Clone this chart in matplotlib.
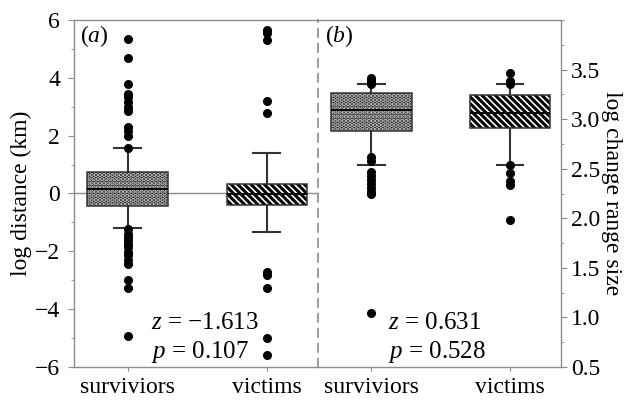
import matplotlib
matplotlib.use("Agg")
import matplotlib.pyplot as plt
from matplotlib.patches import PathPatch
from matplotlib.ticker import MultipleLocator

plt.rcParams['font.family'] = ['Liberation Serif', 'DejaVu Serif']
plt.rcParams['mathtext.fontset'] = 'custom'
plt.rcParams['mathtext.rm'] = 'Liberation Serif'
plt.rcParams['mathtext.it'] = 'Liberation Serif:italic'
plt.rcParams['hatch.linewidth'] = 2.2

groups = ['surviviors', 'victims']

# (a) log distance (km): q1, median, q3, lower whisker, upper whisker
dist_surv_box = [-0.44, 0.15, 0.73, -1.21, 1.57]
dist_vict_box = [-0.41, -0.03, 0.33, -1.34, 1.41]
dist_surv_fliers = [5.35, 4.70, 3.78, 3.45, 3.33, 3.18, 2.98, 2.86, 2.31, 2.17, 2.00, 1.56,
                    -1.22, -1.39, -1.50, -1.62, -1.73, -1.85, -2.02, -2.14, -2.31, -2.43,
                    -3.00, -3.27, -4.92]
dist_vict_fliers = [5.66, 5.55, 5.32, 3.20, 2.80, -2.73, -2.82, -3.27, -5.00, -5.58]

# (b) log change range size
range_surv_box = [2.88, 3.09, 3.265, 2.54, 3.35]
range_vict_box = [2.91, 3.06, 3.24, 2.54, 3.35]
range_surv_fliers = [3.42, 3.39, 3.37, 3.35, 2.62, 2.58, 2.47, 2.43, 2.39, 2.35, 2.31, 2.27, 2.25, 1.04]
range_vict_fliers = [3.47, 3.38, 3.35, 2.54, 2.46, 2.38, 2.34, 1.98]

stats_a = ['z = −1.613', 'p = 0.107']
stats_b = ['z = 0.631', 'p = 0.528']

GREY = '#8c8c8c'
DARK = '#333333'


def make_stats(box, fliers, label):
    q1, med, q3, lo, hi = box
    return dict(q1=q1, med=med, q3=q3, whislo=lo, whishi=hi, fliers=fliers, label=label)


def draw_panel(ax, boxes, fliers):
    stats = [make_stats(b, f, g) for b, f, g in zip(boxes, fliers, groups)]
    pos = [0.22, 0.79]
    bp = ax.bxp(stats, positions=pos, widths=0.33, patch_artist=True,
                showfliers=True, capwidths=0.11,
                whiskerprops=dict(color=DARK, lw=1.5),
                capprops=dict(color=DARK, lw=1.5),
                medianprops=dict(color='black', lw=1.4),
                flierprops=dict(marker='o', markerfacecolor='black',
                                markeredgecolor='black', markersize=5.5))
    styles = [('#1e1e1e', '#d0d0d0', '....'), ('white', 'black', '\\\\\\\\\\')]
    for patch, (fc, hc, h) in zip(bp['boxes'], styles):
        patch.set_facecolor(fc)
        patch.set_edgecolor(hc)
        patch.set_hatch(h)
        patch.set_linewidth(0)
        ax.add_patch(PathPatch(patch.get_path(), fill=False, edgecolor=DARK, lw=1.1,
                               zorder=patch.get_zorder() + 0.1))
    for m in bp['medians']:
        m.set_zorder(5)
    ax.set_xlim(0, 1)
    ax.set_xticks(pos)
    ax.set_xticklabels(groups)
    for s in ax.spines.values():
        s.set_color(GREY)
        s.set_linewidth(1)
    ax.tick_params(axis='both', which='both', colors=GREY, labelcolor='black', labelsize=17)
    ax.tick_params(axis='x', length=3, pad=4)
    ax.tick_params(axis='y', which='major', length=4, pad=3)
    ax.tick_params(axis='y', which='minor', length=2)


fig = plt.figure(figsize=(6.26, 4.01), dpi=100)
bottom = 1 - 367 / 401
height = 347 / 401
ax1 = fig.add_axes([74 / 626, bottom, 244 / 626, height])
ax2 = fig.add_axes([318 / 626, bottom, 243 / 626, height])
ax2.patch.set_visible(False)

ax1.axhline(0, color=GREY, lw=1, zorder=0)
draw_panel(ax1, [dist_surv_box, dist_vict_box], [dist_surv_fliers, dist_vict_fliers])
ax1.set_ylim(-6, 6)
ax1.yaxis.set_minor_locator(MultipleLocator(1))
ax1.set_yticks([-6, -4, -2, 0, 2, 4, 6])
ax1.set_yticklabels(['−6', '−4', '−2', '0', '2', '4', '6'])
ax1.tick_params(axis='y', which='major', pad=6)
ax1.spines['right'].set_linestyle((0, (5, 4)))
ax1.spines['right'].set_linewidth(1.2)
ax1.set_ylabel('log distance (km)', fontsize=17, labelpad=2)

draw_panel(ax2, [range_surv_box, range_vict_box], [range_surv_fliers, range_vict_fliers])
ax2.set_ylim(0.5, 4.0)
ax2.yaxis.set_minor_locator(MultipleLocator(0.25))
ax2.yaxis.tick_right()
ax2.yaxis.set_label_position('right')
ax2.set_yticks([0.5, 1.0, 1.5, 2.0, 2.5, 3.0, 3.5])
ax2.set_yticklabels(['0.5', '1.0', '1.5', '2.0', '2.5', '3.0', '3.5'])
ax2.spines['left'].set_visible(False)
ax2.set_ylabel('log change range size', fontsize=17, rotation=270, labelpad=16)

ax1.text(0.025, 0.955, '($a$)', transform=ax1.transAxes, fontsize=17, va='center')
ax2.text(0.03, 0.955, '($b$)', transform=ax2.transAxes, fontsize=17, va='center')

for ax, lines, x0 in [(ax1, stats_a, 0.315), (ax2, stats_b, 0.29)]:
    for txt, y in zip(lines, [0.127, 0.043]):
        letter, rest = txt.split(' ', 1)
        ax.text(x0, y, f'${letter}$ {rest}', transform=ax.transAxes, fontsize=18, va='center')

fig.savefig('out.png', dpi=100)
